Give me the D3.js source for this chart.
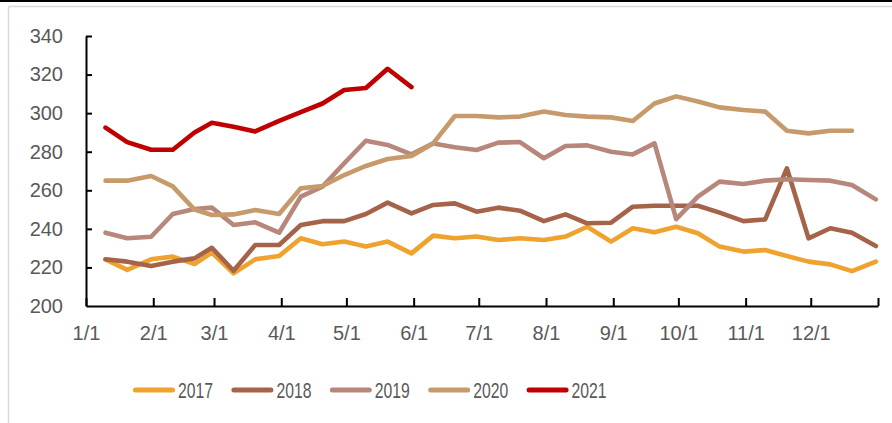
<!DOCTYPE html>
<html lang="zh">
<head>
<meta charset="UTF-8">
<script src="https://d3js.org/d3.v7.min.js"></script>
<style>
  body{margin:0;background:#fff;}
  svg{display:block;}
</style>
</head>
<body>
<div id="chart"></div>
<script>
// 旬度数据：每月10日、20日、月末
var dates=["1/10","1/20","1/31","2/10","2/20","2/28","3/10","3/20","3/31",
           "4/10","4/20","4/30","5/10","5/20","5/31","6/10","6/20","6/30",
           "7/10","7/20","7/31","8/10","8/20","8/31","9/10","9/20","9/30",
           "10/10","10/20","10/31","11/10","11/20","11/30","12/10","12/20","12/31"];

var years=["2017","2018","2019","2020","2021"];
var colors=["#F0A22E","#A5644A","#B8877B","#C69A6B","#C00000"];

var v2017=[224.2,218.7,224.2,225.6,221.8,227.7,216.9,224.2,225.9,
           235.1,232,233.4,230.8,233.4,227.3,236.5,235.1,236,
           234.2,235.1,234.2,236,241.1,233.4,240.3,238.2,241.1,
           237.7,230.8,228.2,229,225.9,223,221.6,218.1,223];
var v2018=[224.2,223,220.7,223,224.7,230.2,218.3,231.6,231.6,
           242,244,244,247.7,253.6,248,252.4,253.2,248.9,
           251,249.4,244,247.5,242.9,243.2,251.5,252,252,
           252,248.4,244,244.9,271.4,235.1,240.3,238,231.1];
var v2019=[238,235.1,235.9,247.7,250.3,251,242,243.4,238,
           256.7,261.9,274,285.7,283.5,278.6,284.3,282.3,280.9,
           284.7,285,276.6,283,283.3,280,278.6,284.3,245,
           256.7,264.5,263.3,265,265.7,265.3,265,262.7,255.3];
var v2020=[265,265,267.4,262,250,247.2,247.5,249.8,247.7,
           261,262.2,267.9,272.6,276.2,277.8,284.3,298.5,298.5,
           297.8,298.2,300.8,299,298.2,297.8,295.9,305,308.7,
           306,303,301.6,300.8,290.9,289.5,290.9,290.9];
var v2021=[292.5,285,281,281,290,295,293,290.5,296,
           300.5,305,312,313,323,313.5];

var yTicks=[200,220,240,260,280,300,320,340];
var xLabels=["1/1","2/1","3/1","4/1","5/1","6/1","7/1","8/1","9/1","10/1","11/1","12/1"];

var series=[v2017,v2018,v2019,v2020,v2021];

var W=892,H=423;
var margin={left:86,right:14,top:36,bottom:117};

var svg=d3.select("#chart").append("svg")
    .attr("width",W)
    .attr("height",H);

// 外框
svg.append("rect").attr("x",0).attr("y",0).attr("width",W).attr("height",2).attr("fill","#000");
svg.append("line").attr("x1",8.5).attr("y1",6.5).attr("x2",W).attr("y2",6.5)
    .attr("stroke","#d9d9d9").attr("stroke-width",1.5);
svg.append("line").attr("x1",8.5).attr("y1",6.5).attr("x2",8.5).attr("y2",H)
    .attr("stroke","#d9d9d9").attr("stroke-width",1.5);

var parse=function(s){
    var p=s.split("/");
    return new Date(2021,+p[0]-1,+p[1]);
};

var x=d3.scaleTime()
    .domain([new Date(2021,0,1),new Date(2022,0,1)])
    .range([margin.left,W-margin.right]);
var y=d3.scaleLinear()
    .domain([200,340])
    .range([H-margin.bottom,margin.top]);

// 坐标轴
var xAxis=d3.axisBottom(x)
    .tickValues(xLabels.map(parse).concat([new Date(2022,0,1)]))
    .tickFormat(function(d,i){return i<xLabels.length?xLabels[i]:"";})
    .tickSizeInner(-8).tickSizeOuter(0).tickPadding(20);
var yAxis=d3.axisLeft(y)
    .tickValues(yTicks)
    .tickSizeInner(-6).tickSizeOuter(0).tickPadding(23);

var gx=svg.append("g").attr("transform","translate(0,"+(H-margin.bottom)+")").call(xAxis);
var gy=svg.append("g").attr("transform","translate("+margin.left+",0)").call(yAxis);

[gx,gy].forEach(function(g){
    g.selectAll("path,line").attr("stroke","#000").attr("stroke-width",2);
    g.selectAll("text")
        .attr("fill","#595959")
        .style("font-family","'Liberation Sans',Arial,sans-serif")
        .style("font-size","20px");
});
gy.selectAll(".tick").filter(function(d){return d==200;}).select("line").remove();

// 折线
var line=d3.line()
    .x(function(d){return x(parse(d.date));})
    .y(function(d){return y(d.v);});

series.forEach(function(vals,i){
    var pts=vals.map(function(v,j){return {date:dates[j],v:v};});
    svg.append("path")
        .datum(pts)
        .attr("d",line)
        .attr("fill","none")
        .attr("stroke",colors[i])
        .attr("stroke-width",4.6)
        .attr("stroke-linejoin","round")
        .attr("stroke-linecap","round");
});

// 图例
var lg=svg.append("g").attr("transform","translate(133,390)");
years.forEach(function(yr,i){
    var g=lg.append("g").attr("transform","translate("+(i*98.4)+",0)");
    g.append("line")
        .attr("x1",2.5).attr("x2",39.5).attr("y1",0).attr("y2",0)
        .attr("stroke",colors[i]).attr("stroke-width",5)
        .attr("stroke-linecap","round");
    g.append("text")
        .attr("x",45).attr("y",7.8)
        .attr("textLength",35)
        .attr("lengthAdjust","spacingAndGlyphs")
        .attr("fill","#595959")
        .style("font-family","'Liberation Sans',Arial,sans-serif")
        .style("font-size","22px")
        .text(yr);
});
</script>
</body>
</html>
